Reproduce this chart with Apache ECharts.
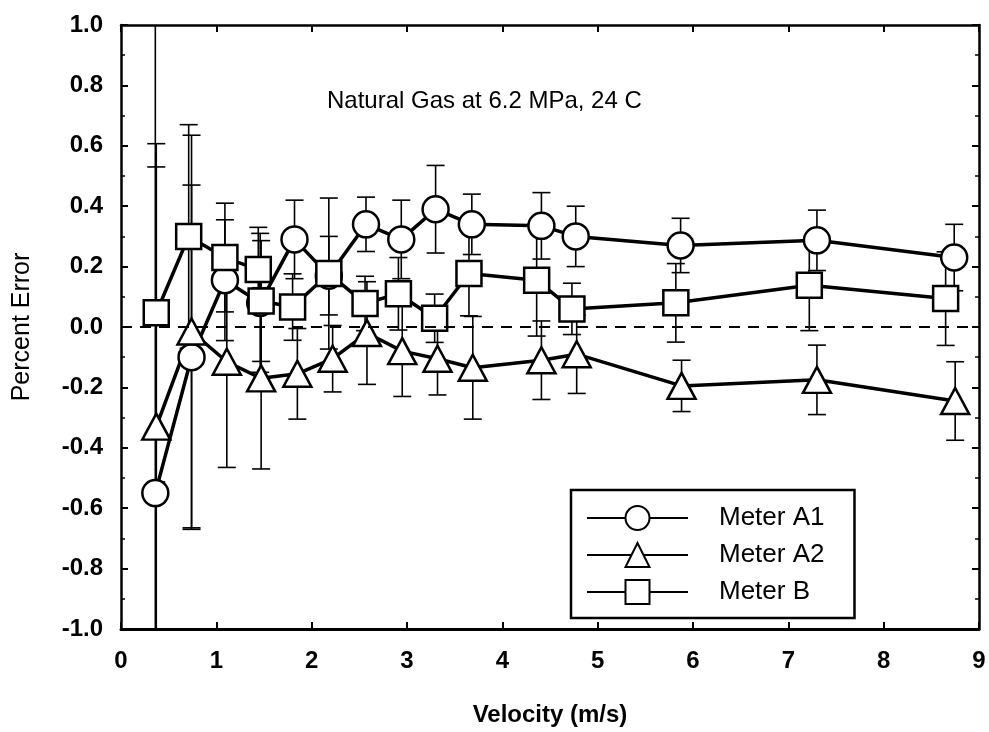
<!DOCTYPE html>
<html>
<head>
<meta charset="utf-8">
<title>Percent Error vs Velocity</title>
<script src="https://cdn.jsdelivr.net/npm/echarts@6/dist/echarts.min.js"></script>
<style>
	html, body { margin: 0; padding: 0; background: #fff; }
	#main { width: 989px; height: 732px; }
</style>
</head>
<body>
<div id="main"></div>
<script>
	// values
	var a1Vel = [0.36, 0.74, 1.09, 1.46, 1.82, 2.18, 2.57, 2.94, 3.30, 3.68, 4.41, 4.77, 5.87, 7.30, 8.74]
	var a1Err = [-0.55, -0.10, 0.155, 0.08, 0.29, 0.17, 0.34, 0.29, 0.39, 0.34, 0.335, 0.30, 0.27, 0.287, 0.23]
	var a1Unc = [1.6, 0.57, 0.2, 0.23, 0.13, 0.13, 0.09, 0.13, 0.145, 0.10, 0.11, 0.10, 0.09, 0.10, 0.11]

	var a2Vel = [0.37, 0.74, 1.11, 1.47, 1.85, 2.22, 2.58, 2.95, 3.32, 3.69, 4.41, 4.78, 5.88, 7.30, 8.75]
	var a2Err = [-0.33, -0.015, -0.115, -0.17, -0.155, -0.105, -0.02, -0.08, -0.105, -0.135, -0.11, -0.09, -0.195, -0.175, -0.245]
	var a2Unc = [0.86, 0.65, 0.35, 0.30, 0.15, 0.11, 0.17, 0.15, 0.12, 0.17, 0.13, 0.13, 0.085, 0.115, 0.13]

	var bVel = [0.37, 0.71, 1.09, 1.44, 1.47, 1.80, 2.18, 2.56, 2.91, 3.29, 3.65, 4.36, 4.73, 5.82, 7.22, 8.65]
	var bErr = [0.047, 0.30, 0.23, 0.19, 0.086, 0.066, 0.177, 0.078, 0.11, 0.029, 0.177, 0.155, 0.06, 0.08, 0.138, 0.094]
	var bUnc = [0.56, 0.37, 0.18, 0.14, 0.20, 0.11, 0.25, 0.09, 0.12, 0.08, 0.14, 0.185, 0.085, 0.13, 0.15, 0.155]

	var seriesNames = ['Meter A1', 'Meter A2', 'Meter B']
	var xTicks = [0, 1, 2, 3, 4, 5, 6, 7, 8, 9]
	var chartTitle = 'Natural Gas at 6.2 MPa, 24 C'

	var font = 'Liberation Sans, Arial, Helvetica, sans-serif'

	function pairs(xs, ys) {
		return xs.map(function (x, i) { return [x, ys[i]] })
	}

	// vertical error bars with caps, clipped to the plot area
	function errorSeries(xs, ys, es) {
		return {
			type: 'custom',
			z: 1,
			silent: true,
			data: xs.map(function (x, i) { return [x, ys[i] - es[i], ys[i] + es[i]] }),
			encode: { x: 0, y: [1, 2] },
			renderItem: function (params, api) {
				var x = api.value(0)
				var lo = api.coord([x, api.value(1)])
				var hi = api.coord([x, api.value(2)])
				var cs = params.coordSys
				var top = cs.y, bottom = cs.y + cs.height
				var y1 = Math.max(hi[1], top), y2 = Math.min(lo[1], bottom)
				var style = { stroke: '#000', lineWidth: 1.6 }
				var kids = [{ type: 'line', shape: { x1: lo[0], y1: y1, x2: lo[0], y2: y2 }, style: style }]
				if (hi[1] >= top) kids.push({ type: 'line', shape: { x1: hi[0] - 9, y1: hi[1], x2: hi[0] + 9, y2: hi[1] }, style: style })
				if (lo[1] <= bottom) kids.push({ type: 'line', shape: { x1: lo[0] - 9, y1: lo[1], x2: lo[0] + 9, y2: lo[1] }, style: style })
				return { type: 'group', children: kids }
			}
		}
	}

	function meterSeries(name, xs, ys, symbol, size, z) {
		return {
			name: name,
			type: 'line',
			z: z,
			data: pairs(xs, ys),
			symbol: symbol,
			symbolSize: size,
			showAllSymbol: true,
			lineStyle: { color: '#000', width: 3.5 },
			itemStyle: { color: '#fff', borderColor: '#000', borderWidth: 2.5 },
			emphasis: { disabled: true },
			animation: false
		}
	}

	var frameLine = { onZero: false, lineStyle: { color: '#000', width: 2.5 } }

	var chart = echarts.init(document.getElementById('main'))
	chart.setOption({
		animation: false,
		title: {
			text: chartTitle,
			left: 322,
			top: 84,
			textStyle: { fontFamily: font, fontSize: 24, fontWeight: 'normal', color: '#000' }
		},
		legend: {
			data: seriesNames,
			orient: 'vertical',
			left: 571,
			top: 490,
			itemWidth: 101,
			itemHeight: 30,
			itemGap: 11,
			padding: [15, 30, 13, 15],
			borderColor: '#000',
			borderWidth: 2.5,
			backgroundColor: '#fff',
			textStyle: { fontFamily: font, fontSize: 26, color: '#000', padding: [0, 0, 0, 26] }
		},
		grid: { left: 121, right: 10, top: 25, bottom: 101 },
		xAxis: [{
			type: 'value',
			min: xTicks[0],
			max: xTicks[xTicks.length - 1],
			interval: 1,
			name: 'Velocity (m/s)',
			nameLocation: 'middle',
			nameGap: 74,
			nameTextStyle: { fontFamily: font, fontSize: 24, fontWeight: 'bold', color: '#000' },
			axisLine: { onZero: false, lineStyle: { color: '#000', width: 3 } },
			axisTick: { inside: true, length: 7, lineStyle: { width: 2 } },
			axisLabel: { margin: 20, fontFamily: font, fontSize: 24, fontWeight: 'bold', color: '#000' },
			splitLine: { show: false }
		}, {
			type: 'value',
			position: 'top',
			min: xTicks[0],
			max: xTicks[xTicks.length - 1],
			interval: 1,
			axisLine: frameLine,
			axisTick: { inside: true, length: 7, lineStyle: { width: 2 } },
			axisLabel: { show: false },
			splitLine: { show: false }
		}],
		yAxis: [{
			type: 'value',
			min: -1,
			max: 1,
			interval: 0.2,
			name: 'Percent Error',
			nameLocation: 'middle',
			nameGap: 86,
			nameTextStyle: { fontFamily: font, fontSize: 25, color: '#000' },
			axisLine: { show: true, onZero: false, lineStyle: { color: '#000', width: 2.5 } },
			axisTick: { inside: true, length: 7, lineStyle: { width: 2 } },
			minorTick: { show: true, splitNumber: 2, length: 4, lineStyle: { color: '#000', width: 1.5 } },
			axisLabel: {
				margin: 18,
				fontFamily: font, fontSize: 24, fontWeight: 'bold', color: '#000',
				formatter: function (v) { return (Math.abs(v) < 1e-9 ? 0 : v).toFixed(1) }
			},
			splitLine: { show: false }
		}, {
			type: 'value',
			position: 'right',
			min: -1,
			max: 1,
			interval: 0.2,
			axisLine: { show: true, onZero: false, lineStyle: { color: '#000', width: 2.5 } },
			axisTick: { inside: true, length: 7, lineStyle: { width: 2 } },
			minorTick: { show: true, splitNumber: 2, length: 4, lineStyle: { color: '#000', width: 1.5 } },
			axisLabel: { show: false },
			splitLine: { show: false }
		}],
		series: [
			{
				type: 'line',
				data: [],
				silent: true,
				markLine: {
					silent: true,
					symbol: 'none',
					label: { show: false },
					lineStyle: { color: '#000', width: 2, type: [11, 8] },
					data: [{ yAxis: 0 }]
				}
			},
			errorSeries(a1Vel, a1Err, a1Unc),
			errorSeries(a2Vel, a2Err, a2Unc),
			errorSeries(bVel, bErr, bUnc),
			meterSeries(seriesNames[0], a1Vel, a1Err, 'circle', 26, 3),
			meterSeries(seriesNames[1], a2Vel, a2Err, 'triangle', [28, 26], 3),
			meterSeries(seriesNames[2], bVel, bErr, 'rect', 25, 3)
		]
	})
</script>
</body>
</html>
